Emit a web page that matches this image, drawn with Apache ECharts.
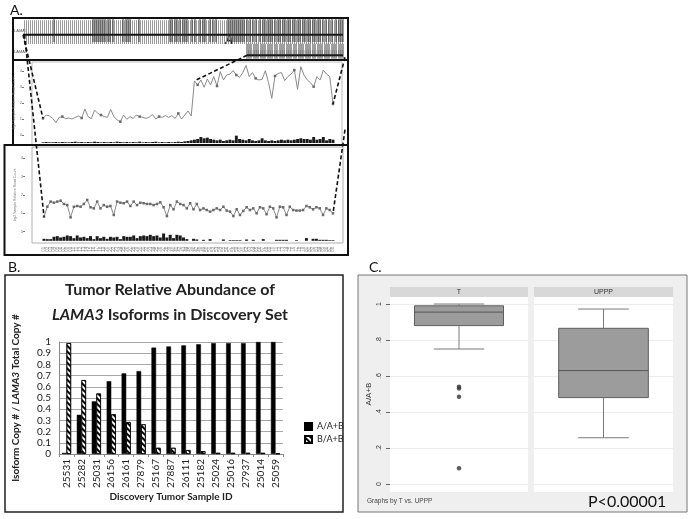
<!DOCTYPE html>
<html><head><meta charset="utf-8">
<script src="https://cdn.jsdelivr.net/npm/echarts@6/dist/echarts.min.js"></script>
<style>html,body{margin:0;padding:0;background:#fff}#c{width:689px;height:519px}</style>
</head><body><div id="c"></div>
<script>
// ================= DATA =================
// Panel A: gene model (arbitrary genomic units) and two isoform tracks
const geneA = [0, 320];
const geneB = [224, 320];
const exonsA = [31, 70,72,74,76,78,80,82,85,87, 90, 100,103,105,107, 116, 147,149,152,154,157,160,162,164, 169,172, 177,180,182, 187,190,193, 205,207,209,211,213,215,217,219,221,224, 227,230,233, 237,240,242,245,247,249,252,255,257,260,262,265,267,270,272,275,277,280,282,285,287,290,292,295,297,300,303,306,309, 313,316,318,320];
const exonsB = [224,226,228,231,233,235,238,240,242,245,247,249,252,254,257,259,261,264,266,268,271,273,276,278,280,283,285,287,290,292,295,297,299,302,304,306,309,311,313,316,318,320];
// upper coverage profile (isoform A region)
const upperLine = [1.04,1.25,1.19,1.04,0.77,1.10,1.15,1.02,1.06,1.00,
1.10,1.19,1.06,1.63,1.15,1.02,1.56,1.35,1.25,1.15,
1.10,1.60,1.15,0.94,0.83,1.25,0.98,1.15,1.04,1.25,
1.15,1.10,1.04,1.12,1.28,1.00,1.15,1.10,1.21,1.10,
1.21,1.04,1.35,1.00,1.25,1.50,1.19,
3.38,3.13,3.44,2.98,3.50,3.13,3.65,3.06,3.96,3.44,
3.75,3.81,4.02,3.75,3.60,3.90,4.35,3.65,3.90,3.54,
3.44,3.48,4.02,3.27,2.29,3.69,3.85,3.90,3.40,3.65,
3.81,4.06,2.85,4.27,3.75,3.44,3.27,3.02,3.65,3.44,
4.06,3.81,3.65,1.94];
const upperBars = [2,3,2,2,3,2,3,2,2,3, 4,2,3,2,3,2,4,3,2,3, 2,3,2,4,3,2,3,2,3,2, 4,2,3,2,3,4,2,3,2,3, 2,3,4,3,5,6,8,
10,12,18,14,16,12,10,8,10,6, 8,10,8,22,12,10,8,12,8,6, 8,14,8,6,8,6,8,10,8,10, 8,10,12,14,12,12,10,18,10,12, 18,8,12,10];
// lower coverage profile
const lowerLine = [0.82,1.36,1.64,1.58,1.64,1.69,1.51,1.45,0.78,1.36,
1.40,1.36,1.51,1.73,1.33,1.27,1.64,1.27,1.45,1.36,
1.40,0.91,1.64,1.58,1.55,1.64,1.40,1.64,1.45,1.58,
1.55,1.51,1.51,1.45,1.51,1.60,1.33,0.85,1.45,1.22,
1.64,1.51,1.45,1.27,1.55,1.22,1.51,1.18,1.27,1.18,
1.09,1.18,1.27,1.18,1.36,1.15,1.09,0.85,1.22,0.91,
1.13,1.33,1.18,1.27,1.00,1.33,1.27,0.95,1.36,1.27,
0.78,1.36,1.33,0.91,1.36,1.18,1.15,1.15,1.18,1.40,
1.33,1.22,1.33,1.27,0.91,1.27,1.18,1.00];
const lowerBars = [6,5,5,12,14,10,12,16,14,8, 16,10,12,8,14,5,14,8,12,6, 12,10,12,5,14,12,12,16,8,14, 16,14,18,14,16,10,22,10,18,8, 18,16,10,
5,0,6,4,0,3,0,5,0,0, 0,4,0,2,2,2,2,0,4,0, 3,0,0,5,0,0,0,3,3,3, 3,0,0,2,0,0,8,0,6,6, 3,3,3,2,2];
const upperSamples = upperLine.map((_, i) => String(i + 1).padStart(2, '0'));
const lowerSamples = lowerLine.map((_, i) => String(i + 1).padStart(2, '0'));
const profileTicks = [0, 1, 2, 3, 4];

// Panel B
const sampleIds = ['25531','25282','25031','26156','26161','27879','25167','27887','26111','25182','25024','25016','27937','25014','25059'];
const aOverAB = [0.01,0.35,0.47,0.65,0.72,0.74,0.95,0.96,0.97,0.98,0.99,0.99,0.99,1.0,1.0];
const bOverAB = [0.99,0.66,0.54,0.355,0.285,0.265,0.055,0.055,0.035,0.025,0.01,0.01,0.01,0.01,0.005];

// Panel C  [lower whisker, Q1, median, Q3, upper whisker]
const boxT = [0.75, 0.88, 0.955, 0.99, 1.0];
const boxUPPP = [0.257, 0.48, 0.63, 0.865, 0.972];
const outliersT = [0.54, 0.53, 0.485, 0.087];

// ================= LAYOUT / STYLE =================
const track = {
  A: {line: 16.7, top: 0.7, bottom: 24, bandTop: 2.3, bandBottom: 26, bandColor: '#9a9a9a'},
  B: {line: 37.3, top: 25.7, bottom: 40.7, bandTop: 32, bandBottom: 39, bandColor: '#cfcfcf'}
};
function hatch(color, gap) {
  const c = document.createElement('canvas'); c.width = gap; c.height = 4;
  const g = c.getContext('2d'); g.fillStyle = color; g.fillRect(0, 0, 1, 4); return c;
}
const chart = echarts.init(document.getElementById('c'), null, {renderer: 'canvas'});

function geneBody(L) {
  return function (params, api) {
    const s = api.value(0), e = api.value(1);
    const a = api.coord([s, L.bandTop]), b = api.coord([e, L.bandBottom]);
    const l1 = api.coord([s, L.line]), l2 = api.coord([e, L.line]);
    return {type: 'group', children: [
      {type: 'rect', shape: {x: a[0], y: a[1], width: b[0] - a[0], height: b[1] - a[1]},
        style: {fill: {image: hatch(L.bandColor, 2), repeat: 'repeat'}}},
      {type: 'line', shape: {x1: l1[0], y1: l1[1], x2: l2[0], y2: l2[1]}, style: {stroke: '#111', lineWidth: 2}}
    ]};
  };
}
function exonItem(L) {
  return function (params, api) {
    const x = api.value(0);
    const t = api.coord([x, L.top]), b = api.coord([x, L.bottom]);
    return {type: 'rect', shape: {x: t[0] - 0.6, y: t[1], width: 1.2, height: b[1] - t[1]}, style: {fill: '#2a2a2a', opacity: 0.75}};
  };
}
function boxItem(params, api) {
  const c = api.value(0);
  const v = [1, 2, 3, 4, 5].map(i => api.value(i));
  const band = api.size([1, 0])[0];
  const bw = band * 0.645, cw = band * 0.365;
  const cx = api.coord([c, v[0]])[0];
  const y = v.map(val => api.coord([c, val])[1]);
  const ws = {stroke: '#7a7a7a', lineWidth: 1};
  return {type: 'group', children: [
    {type: 'line', shape: {x1: cx, y1: y[0], x2: cx, y2: y[1]}, style: ws},
    {type: 'line', shape: {x1: cx, y1: y[3], x2: cx, y2: y[4]}, style: ws},
    {type: 'line', shape: {x1: cx - cw / 2, y1: y[0], x2: cx + cw / 2, y2: y[0]}, style: ws},
    {type: 'line', shape: {x1: cx - cw / 2, y1: y[4], x2: cx + cw / 2, y2: y[4]}, style: ws},
    {type: 'rect', shape: {x: cx - bw / 2, y: y[3], width: bw, height: y[1] - y[3]}, style: {fill: '#9c9c9c', stroke: '#5e5e5e', lineWidth: 1}},
    {type: 'line', shape: {x1: cx - bw / 2, y1: y[2], x2: cx + bw / 2, y2: y[2]}, style: {stroke: '#555', lineWidth: 1}}
  ]};
}

const tiny = {fontSize: 4, color: '#777', fontFamily: 'Liberation Sans'};
const profileY = (name) => ({
  type: 'value', min: -0.5, max: 4.5, offset: 19,
  axisLine: {show: false}, splitLine: {show: false},
  axisTick: {show: true, length: 2, customValues: profileTicks, lineStyle: {color: '#777'}},
  axisLabel: Object.assign({customValues: profileTicks, margin: 2}, tiny),
  name: name, nameLocation: 'middle', nameGap: 7, nameTextStyle: {fontSize: 3.5, color: '#777', fontFamily: 'Liberation Sans'}
});
const cY = (showLabels) => ({
  type: 'value', min: 0, max: 1, interval: 0.2,
  axisLine: {show: false},
  axisTick: {show: showLabels, length: 4, lineStyle: {color: '#666'}},
  axisLabel: {show: showLabels, rotate: 90, margin: 7, fontSize: 7, color: '#333', fontFamily: 'Liberation Sans',
    formatter: v => v === 0 ? '0' : v === 1 ? '1' : '.' + Math.round(v * 10)},
  splitLine: {show: true, lineStyle: {color: '#ececec', width: 1}},
  name: showLabels ? 'A/A+B' : '', nameLocation: 'middle', nameGap: 17,
  nameTextStyle: {fontSize: 8, color: '#333', fontFamily: 'Liberation Sans'}
});
const G = (o) => Object.assign({containLabel: false, outerBoundsMode: 'none'}, o);

const staticGraphics = [
  {id: 'cbox', type: 'rect', z: -10, shape: {x: 358, y: 275, width: 329, height: 237}, style: {fill: '#efefef', stroke: '#777', lineWidth: 1}},
  {id: 'cplotT', type: 'rect', z: -9, shape: {x: 390, y: 297, width: 138, height: 195}, style: {fill: '#fff'}},
  {id: 'cplotU', type: 'rect', z: -9, shape: {x: 534, y: 297, width: 139, height: 195}, style: {fill: '#fff'}},
  {id: 'cstripT', type: 'rect', z: -9, shape: {x: 390, y: 287, width: 138, height: 10}, style: {fill: '#d8d8d8'}},
  {id: 'cstripU', type: 'rect', z: -9, shape: {x: 534, y: 287, width: 139, height: 10}, style: {fill: '#d8d8d8'}},
  {id: 'tT', type: 'text', style: {text: 'T', x: 459, y: 292.5, textAlign: 'center', textVerticalAlign: 'middle', fontSize: 7, fontFamily: 'Liberation Sans', fill: '#333'}},
  {id: 'tU', type: 'text', style: {text: 'UPPP', x: 603.5, y: 292.5, textAlign: 'center', textVerticalAlign: 'middle', fontSize: 7, fontFamily: 'Liberation Sans', fill: '#333'}},
  {id: 'gby', type: 'text', style: {text: 'Graphs by T vs. UPPP', x: 367, y: 501, textVerticalAlign: 'middle', fontSize: 6.5, fontFamily: 'Liberation Sans', fill: '#444'}},
  {id: 'pval', type: 'text', style: {text: 'P<0.00001', x: 588, y: 502, textVerticalAlign: 'middle', fontSize: 16, fontFamily: 'Lato', fill: '#111'}},
  {id: 'labA', type: 'text', style: {text: 'A.', x: 10, y: 10, textVerticalAlign: 'middle', fontSize: 14, fontFamily: 'Lato', fill: '#111'}},
  {id: 'labB', type: 'text', style: {text: 'B.', x: 8, y: 267, textVerticalAlign: 'middle', fontSize: 14, fontFamily: 'Lato', fill: '#111'}},
  {id: 'labC', type: 'text', style: {text: 'C.', x: 369, y: 267, textVerticalAlign: 'middle', fontSize: 14, fontFamily: 'Lato', fill: '#111'}},
  {id: 'boxTop', type: 'rect', shape: {x: 13, y: 18, width: 335, height: 127}, style: {fill: null, stroke: '#111', lineWidth: 2}},
  {id: 'sep', type: 'line', shape: {x1: 13, y1: 60, x2: 348, y2: 60}, style: {stroke: '#111', lineWidth: 2}},
  {id: 'boxLow', type: 'rect', shape: {x: 4.5, y: 145, width: 343.5, height: 110}, style: {fill: null, stroke: '#111', lineWidth: 2}},
  {id: 'frU', type: 'rect', z: -5, shape: {x: 32, y: 62, width: 310, height: 83}, style: {fill: null, stroke: '#bdbdbd', lineWidth: 1}},
  {id: 'frL', type: 'rect', z: -5, shape: {x: 32, y: 147, width: 311, height: 96}, style: {fill: null, stroke: '#b0b0b0', lineWidth: 1}},
  {id: 'isoA', type: 'text', style: {text: 'A', x: 229, y: 41, textAlign: 'center', textVerticalAlign: 'middle', fontSize: 12, fontStyle: 'italic', fontFamily: 'Liberation Sans', fill: '#111'}},
  {id: 'g1', type: 'text', style: {text: 'LAMA3', x: 14, y: 31, textVerticalAlign: 'middle', fontSize: 4, fontFamily: 'Liberation Sans', fill: '#555'}},
  {id: 'g2', type: 'text', style: {text: 'LAMA3', x: 14, y: 52, textVerticalAlign: 'middle', fontSize: 4, fontFamily: 'Liberation Sans', fill: '#555'}},
  {id: 'bbox', type: 'rect', shape: {x: 5, y: 275, width: 338, height: 237}, style: {fill: null, stroke: '#222', lineWidth: 1.5}},
  {id: 'bt1', type: 'text', style: {text: 'Tumor Relative Abundance of', x: 170, y: 290, textAlign: 'center', textVerticalAlign: 'middle', fontSize: 16, fontWeight: 'bold', fontFamily: 'Lato', fill: '#222'}},
  {id: 'bt2', type: 'text', style: {text: '{i|LAMA3} Isoforms in Discovery Set', x: 170, y: 315, textAlign: 'center', textVerticalAlign: 'middle', fontSize: 16, fontWeight: 'bold', fontFamily: 'Lato', fill: '#222',
    rich: {i: {fontStyle: 'italic', fontWeight: 'bold', fontSize: 16, fontFamily: 'Lato', fill: '#222'}}}}
];

chart.setOption({
  animation: false,
  backgroundColor: '#fff',
  grid: [
    G({left: 23, top: 18, width: 320, height: 42}),
    G({left: 43, top: 63, width: 290, height: 80}),
    G({left: 44, top: 149.2, width: 289, height: 91.6}),
    G({left: 59, top: 342, width: 224, height: 112}),
    G({left: 390, top: 304, width: 138, height: 180}),
    G({left: 534, top: 304, width: 139, height: 180})
  ],
  xAxis: [
    {type: 'value', gridIndex: 0, min: 0, max: 320, show: false},
    {type: 'category', gridIndex: 1, data: upperSamples, boundaryGap: false, show: false},
    {type: 'category', gridIndex: 2, data: lowerSamples, boundaryGap: false,
      axisLine: {show: false}, axisTick: {show: false},
      axisLabel: {interval: 0, rotate: 90, fontSize: 4.5, margin: 6, color: '#888', fontFamily: 'Liberation Sans'}},
    {type: 'category', gridIndex: 3, data: sampleIds,
      axisLine: {show: true, lineStyle: {color: '#888'}}, axisTick: {show: true, length: 3, lineStyle: {color: '#888'}},
      axisLabel: {interval: 0, rotate: 90, fontSize: 10, margin: 5, color: '#222', fontFamily: 'Lato'},
      name: 'Discovery Tumor Sample ID', nameLocation: 'middle', nameGap: 38,
      nameTextStyle: {fontSize: 10, fontWeight: 'bold', color: '#222', fontFamily: 'Lato'}},
    {type: 'category', gridIndex: 4, data: ['T'], show: false},
    {type: 'category', gridIndex: 5, data: ['UPPP'], show: false}
  ],
  yAxis: [
    {type: 'value', gridIndex: 0, min: 0, max: 42, inverse: true, show: false},
    Object.assign({gridIndex: 1}, profileY('log2 Sample Relative Read Count')),
    {type: 'value', gridIndex: 1, min: 0, max: 240, show: false},
    Object.assign({gridIndex: 2}, profileY('log2 Sample Relative Read Count')),
    {type: 'value', gridIndex: 2, min: 0, max: 275, show: false},
    {type: 'value', gridIndex: 3, min: 0, max: 1, interval: 0.1,
      axisLine: {show: true, lineStyle: {color: '#888'}}, axisTick: {show: false},
      axisLabel: {fontSize: 10, margin: 8, color: '#222', fontFamily: 'Lato',
        formatter: v => (v === 0 || v === 1) ? String(v) : v.toFixed(1)},
      splitLine: {show: true, lineStyle: {color: '#a8a8a8', width: 1}},
      name: '{n|Isoform Copy # / }{i|LAMA3}{n| Total Copy #}', nameLocation: 'middle', nameGap: 38,
      nameTextStyle: {fontSize: 10, fontWeight: 'bold', color: '#222', fontFamily: 'Lato',
        rich: {n: {fontSize: 10, fontWeight: 'bold', fontFamily: 'Lato', color: '#222'},
               i: {fontSize: 10, fontWeight: 'bold', fontStyle: 'italic', fontFamily: 'Lato', color: '#222'}}}},
    Object.assign({gridIndex: 4}, cY(true)),
    Object.assign({gridIndex: 5}, cY(false))
  ],
  legend: {
    orient: 'vertical', left: 299, top: 417, itemWidth: 7, itemHeight: 7, itemGap: 4, icon: 'rect',
    textStyle: {fontSize: 9, color: '#222', fontFamily: 'Lato'},
    data: ['A/A+B', 'B/A+B']
  },
  series: [
    {type: 'custom', name: 'geneBodyA', xAxisIndex: 0, yAxisIndex: 0, renderItem: geneBody(track.A), data: [geneA], encode: {x: [0, 1]}, silent: true},
    {type: 'custom', name: 'geneBodyB', xAxisIndex: 0, yAxisIndex: 0, renderItem: geneBody(track.B), data: [geneB], encode: {x: [0, 1]}, silent: true},
    {type: 'custom', name: 'exonsA', xAxisIndex: 0, yAxisIndex: 0, renderItem: exonItem(track.A), data: exonsA.map(x => [x]), encode: {x: 0}, silent: true},
    {type: 'custom', name: 'exonsB', xAxisIndex: 0, yAxisIndex: 0, renderItem: exonItem(track.B), data: exonsB.map(x => [x]), encode: {x: 0}, silent: true},
    {type: 'bar', name: 'upperBars', xAxisIndex: 1, yAxisIndex: 2, data: upperBars, barCategoryGap: '10%', itemStyle: {color: '#1a1a1a'}, silent: true},
    {type: 'line', name: 'upperLine', xAxisIndex: 1, yAxisIndex: 1, data: upperLine, symbol: 'rect', symbolSize: 2.5,
      lineStyle: {color: '#8a8a8a', width: 1}, itemStyle: {color: '#6a6a6a'}, silent: true},
    {type: 'bar', name: 'lowerBars', xAxisIndex: 2, yAxisIndex: 4, data: lowerBars, barCategoryGap: '10%', itemStyle: {color: '#1a1a1a'}, silent: true},
    {type: 'line', name: 'lowerLine', xAxisIndex: 2, yAxisIndex: 3, data: lowerLine, symbol: 'rect', symbolSize: 2.5,
      lineStyle: {color: '#8a8a8a', width: 1}, itemStyle: {color: '#6a6a6a'}, silent: true},
    {type: 'bar', name: 'A/A+B', xAxisIndex: 3, yAxisIndex: 5, data: aOverAB, barWidth: 4.6, barGap: '0%',
      itemStyle: {color: '#000', borderColor: '#000', borderWidth: 0.5}},
    {type: 'bar', name: 'B/A+B', xAxisIndex: 3, yAxisIndex: 5, data: bOverAB, barWidth: 4.6, barGap: '0%',
      itemStyle: {color: '#fff', borderColor: '#000', borderWidth: 0.7,
        decal: {symbol: 'rect', dashArrayX: [1, 0], dashArrayY: [1.2, 1.8], rotation: Math.PI / 4, color: '#000', symbolSize: 1}}},
    {type: 'custom', name: 'boxT', xAxisIndex: 4, yAxisIndex: 6, renderItem: boxItem, data: [[0].concat(boxT)], encode: {x: 0, y: [1, 2, 3, 4, 5]}, silent: true},
    {type: 'scatter', name: 'outT', xAxisIndex: 4, yAxisIndex: 6, data: outliersT.map(v => [0, v]), symbol: 'circle', symbolSize: 4.5,
      itemStyle: {color: '#333'}, silent: true},
    {type: 'custom', name: 'boxU', xAxisIndex: 5, yAxisIndex: 7, renderItem: boxItem, data: [[0].concat(boxUPPP)], encode: {x: 0, y: [1, 2, 3, 4, 5]}, silent: true}
  ],
  graphic: {elements: staticGraphics}
});

// dashed connectors from gene model to coverage profiles, located through the axes
const P = (xi, yi, v) => chart.convertToPixel({xAxisIndex: xi, yAxisIndex: yi}, v);
const gA0 = P(0, 0, [geneA[0], track.A.line]);
const gA1 = P(0, 0, [geneA[1], track.A.line]);
const gB0 = P(0, 0, [geneB[0], track.B.line]);
const gB1 = P(0, 0, [geneB[1], track.B.line]);
const highStart = 47;
const u0 = P(1, 1, [0, upperLine[0]]);
const uS = P(1, 1, [highStart, upperLine[highStart]]);
const uE = P(1, 1, [upperLine.length - 1, upperLine[upperLine.length - 1]]);
const l0 = P(2, 3, [0, lowerLine[0]]);
const lE = P(2, 3, [lowerLine.length - 1, lowerLine[lowerLine.length - 1]]);
const dash = (id, a, b) => ({id: id, type: 'line', z: 50, shape: {x1: a[0], y1: a[1], x2: b[0], y2: b[1]},
  style: {stroke: '#111', lineWidth: 1.6, lineDash: [4, 2.5]}});
chart.setOption({graphic: {elements: [
  dash('d1', gA0, u0), dash('d2', [gA0[0] + 1.5, gA0[1]], l0), dash('d3', gB0, uS),
  dash('d4', [gB1[0] + 2, gB1[1] + 2], uE), dash('d5', [gA1[0] + 2, gA1[1] + 95], lE)
]}});
</script>
</body></html>
